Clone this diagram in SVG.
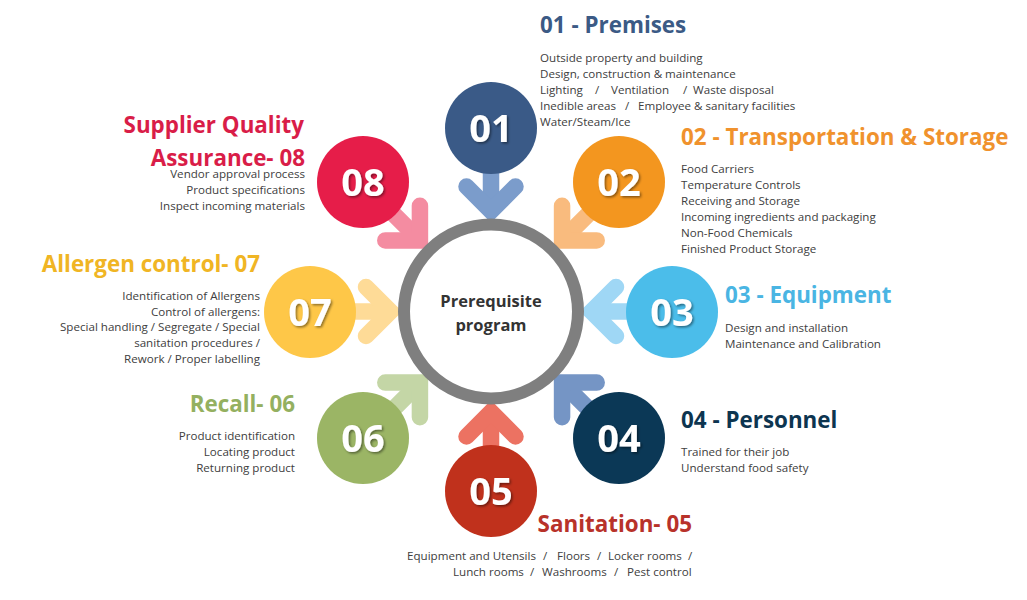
<svg xmlns="http://www.w3.org/2000/svg" xmlns:xlink="http://www.w3.org/1999/xlink" width="1027" height="600" viewBox="0 0 1027 600">
<defs>
<style>
text{font-family:"Open Sans","Noto Sans","Liberation Sans",sans-serif;}
.t{font-size:22.4px;font-weight:700;}
.b{font-size:11.6px;fill:#404040;}
.n{font-size:38px;font-weight:700;fill:#ffffff;text-anchor:middle;filter:url(#sh);}
.e{text-anchor:end;}
.arr{fill:none;stroke-width:16.5;stroke-linecap:round;stroke-linejoin:miter;}
</style>
<filter id="sh" x="-20%" y="-20%" width="150%" height="150%">
<feDropShadow dx="1.5" dy="1.5" stdDeviation="1" flood-color="#000" flood-opacity="0.45"/>
</filter>
<g id="arrow">
<path d="M491,160 L491,205"/>
<path d="M466.5,186.5 L491,211 L515.5,186.5"/>
</g>
</defs>
<rect width="1027" height="600" fill="#ffffff"/>

<g id="connectors" class="arr">
<use xlink:href="#arrow" href="#arrow" stroke="#7b9ccb"/>
<use xlink:href="#arrow" href="#arrow" stroke="#f9bb7e" transform="rotate(45 491 311.5)"/>
<use xlink:href="#arrow" href="#arrow" stroke="#9fd7f5" transform="rotate(90 491 311.5)"/>
<use xlink:href="#arrow" href="#arrow" stroke="#7595c5" transform="rotate(135 491 311.5)"/>
<use xlink:href="#arrow" href="#arrow" stroke="#ec7262" transform="rotate(180 491 311.5)"/>
<use xlink:href="#arrow" href="#arrow" stroke="#c4d6a6" transform="rotate(225 491 311.5)"/>
<use xlink:href="#arrow" href="#arrow" stroke="#fedb97" transform="rotate(270 491 311.5)"/>
<use xlink:href="#arrow" href="#arrow" stroke="#f48ca1" transform="rotate(315 491 311.5)"/>
</g>

<g id="center">
<circle cx="491" cy="311.5" r="87" fill="#ffffff" stroke="#7f7f7f" stroke-width="12"/>
<text x="491" y="307" text-anchor="middle" font-size="16.5" font-weight="700" fill="#333333">Prerequisite</text>
<text x="491" y="331" text-anchor="middle" font-size="16.5" font-weight="700" fill="#333333">program</text>
</g>

<g id="node01">
<circle cx="491" cy="128" r="46" fill="#3a5a87"/>
<text class="n" x="491" y="142">01</text>
<text class="t" x="540" y="33" fill="#3b5a85">01 - Premises</text>
<text class="b" y="62"><tspan x="540">Outside property and building</tspan></text>
<text class="b" y="78"><tspan x="540">Design, construction &amp; maintenance</tspan></text>
<text class="b" y="94"><tspan x="540">Lighting</tspan><tspan x="595">/</tspan><tspan x="611">Ventilation</tspan><tspan x="683">/</tspan><tspan x="693">Waste disposal</tspan></text>
<text class="b" y="110"><tspan x="540">Inedible areas</tspan><tspan x="625">/</tspan><tspan x="638">Employee &amp; sanitary facilities</tspan></text>
<text class="b" y="126"><tspan x="540">Water/Steam/Ice</tspan></text>
</g>

<g id="node02">
<circle cx="619" cy="182" r="46" fill="#f3961f"/>
<text class="n" x="619" y="196">02</text>
<text class="t" x="681" y="145" fill="#f0922d">02 - Transportation &amp; Storage</text>
<text class="b" x="681" y="173">Food Carriers</text>
<text class="b" x="681" y="189">Temperature Controls</text>
<text class="b" x="681" y="205">Receiving and Storage</text>
<text class="b" x="681" y="221">Incoming ingredients and packaging</text>
<text class="b" x="681" y="237">Non-Food Chemicals</text>
<text class="b" x="681" y="253">Finished Product Storage</text>
</g>

<g id="node03">
<circle cx="672" cy="312" r="46" fill="#4bbdea"/>
<text class="n" x="672" y="326">03</text>
<text class="t" x="725" y="303" fill="#4ab5e3">03 - Equipment</text>
<text class="b" x="725" y="332">Design and installation</text>
<text class="b" x="725" y="348">Maintenance and Calibration</text>
</g>

<g id="node04">
<circle cx="619" cy="438" r="46" fill="#0b3856"/>
<text class="n" x="619" y="452">04</text>
<text class="t" x="681" y="428" fill="#0d3550">04 - Personnel</text>
<text class="b" x="681" y="456">Trained for their job</text>
<text class="b" x="681" y="472">Understand food safety</text>
</g>

<g id="node05">
<circle cx="491" cy="491" r="46" fill="#c0311c"/>
<text class="n" x="491" y="505">05</text>
<text class="t e" x="692" y="532" fill="#b8322a">Sanitation- 05</text>
<text class="b" y="560"><tspan x="407">Equipment and Utensils</tspan><tspan x="543">/</tspan><tspan x="557">Floors</tspan><tspan x="597">/</tspan><tspan x="608">Locker rooms</tspan><tspan x="688">/</tspan></text>
<text class="b" y="576"><tspan x="453">Lunch rooms</tspan><tspan x="530">/</tspan><tspan x="542">Washrooms</tspan><tspan x="614">/</tspan><tspan x="627">Pest control</tspan></text>
</g>

<g id="node06">
<circle cx="363" cy="438" r="46" fill="#9bb565"/>
<text class="n" x="363" y="452">06</text>
<text class="t e" x="295" y="412" fill="#94b060">Recall- 06</text>
<text class="b e" x="295" y="440">Product identification</text>
<text class="b e" x="295" y="456">Locating product</text>
<text class="b e" x="295" y="472">Returning product</text>
</g>

<g id="node07">
<circle cx="310" cy="312" r="46" fill="#fec748"/>
<text class="n" x="310" y="326">07</text>
<text class="t e" x="260" y="272" fill="#f0b524">Allergen control- 07</text>
<text class="b e" x="260" y="300">Identification of Allergens</text>
<text class="b e" x="260" y="316">Control of allergens:</text>
<text class="b e" x="260" y="331">Special handling / Segregate / Special</text>
<text class="b e" x="260" y="347">sanitation procedures /</text>
<text class="b e" x="260" y="363">Rework / Proper labelling</text>
</g>

<g id="node08">
<circle cx="363" cy="182" r="46" fill="#e61d49"/>
<text class="n" x="363" y="196">08</text>
<text class="t e" x="304" y="133" fill="#d91d48">Supplier Quality</text>
<text class="t e" x="305" y="166" fill="#d91d48">Assurance- 08</text>
<text class="b e" x="305" y="178">Vendor approval process</text>
<text class="b e" x="305" y="194">Product specifications</text>
<text class="b e" x="305" y="210">Inspect incoming materials</text>
</g>
</svg>
